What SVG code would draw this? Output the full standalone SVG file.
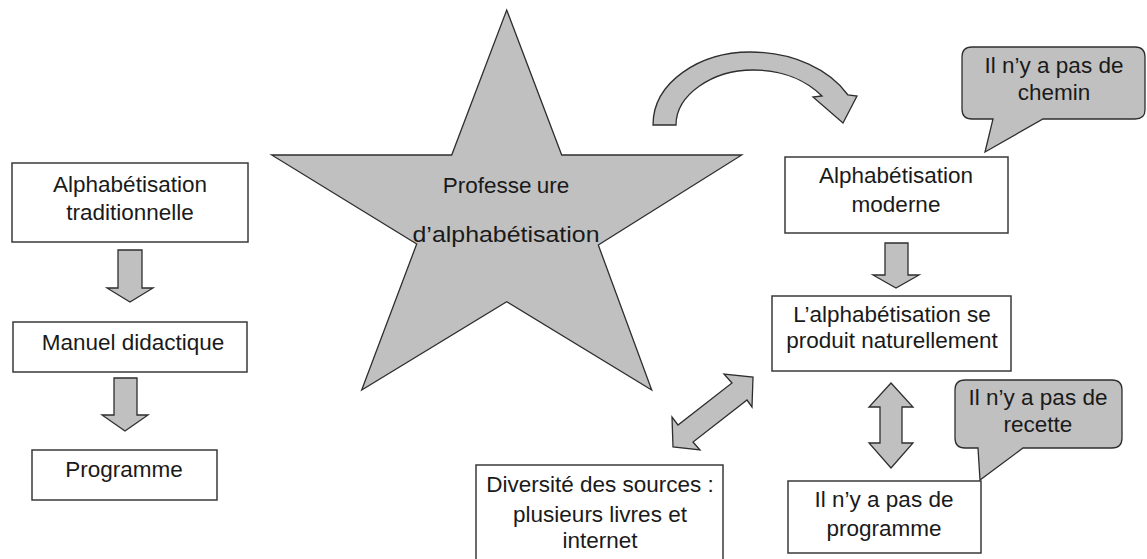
<svg xmlns="http://www.w3.org/2000/svg" width="1147" height="559" viewBox="0 0 1147 559">
<style>
.box{fill:#ffffff;stroke:#3a3a3a;stroke-width:1.5}
.shape{fill:#c0c0c0;stroke:#2e2e2e;stroke-width:1.3;stroke-linejoin:miter}
text{font-family:"Liberation Sans",Arial,sans-serif;font-size:22.5px;fill:#1a1a1a;text-anchor:middle}
</style>
<rect width="1147" height="559" fill="#ffffff"/>
<g id="star">
<polygon class="shape" points="506.7,10 561.7,155 741.7,155 598.3,245 651.7,390 506.7,301.7 361.7,390 416.7,244 271.7,155 451.7,155"/>
<text x="506" y="193" font-size="23">Professe<tspan dx="5">ure</tspan></text>
<text x="506" y="242" font-size="23" textLength="187" lengthAdjust="spacingAndGlyphs">d’alphabétisation</text>
</g>
<g id="n-trad">
<rect class="box" x="12" y="163" width="236" height="79"/>
<text x="130" y="192">Alphabétisation</text>
<text x="130" y="220">traditionnelle</text>
</g>
<g id="n-manuel">
<rect class="box" x="13" y="322" width="234" height="50"/>
<text x="133" y="350">Manuel didactique</text>
</g>
<g id="n-programme">
<rect class="box" x="32" y="450" width="185" height="50"/>
<text x="124" y="477">Programme</text>
</g>
<g id="n-moderne">
<rect class="box" x="785" y="157" width="223" height="76"/>
<text x="896" y="183">Alphabétisation</text>
<text x="896" y="212">moderne</text>
</g>
<g id="n-naturel">
<rect class="box" x="772" y="296" width="239" height="75"/>
<text x="892" y="322">L’alphabétisation se</text>
<text x="892" y="348">produit naturellement</text>
</g>
<g id="n-pasprog">
<rect class="box" x="788" y="481" width="193" height="72"/>
<text x="884" y="507">Il n’y a pas de</text>
<text x="884" y="536">programme</text>
</g>
<g id="n-diversite">
<rect class="box" x="476" y="465" width="247" height="100"/>
<text x="600" y="492">Diversité des sources :</text>
<text x="600" y="522">plusieurs livres et</text>
<text x="600" y="548">internet</text>
</g>
<g id="callout-chemin">
<path class="shape" d="M972,47 H1135 Q1145,47 1145,57 V110 Q1145,119 1135,119 H1043 L985,152 L993,119 H972 Q962,119 962,109 V57 Q962,47 972,47 Z"/>
<text x="1054" y="73">Il n’y a pas de</text>
<text x="1054" y="100">chemin</text>
</g>
<g id="callout-recette">
<path class="shape" d="M965,380 H1112 Q1122,380 1122,390 V438 Q1122,448 1112,448 H1023 L980,480 L978,448 H965 Q955,448 955,438 V390 Q955,380 965,380 Z"/>
<text x="1038" y="405">Il n’y a pas de</text>
<text x="1038" y="432">recette</text>
</g>
<g id="connectors">
<polygon class="shape" points="118,250 142,250 142,288 153,288 130,302 107,288 118,288"/>
<polygon class="shape" points="114,378 137,378 137,415 148,415 125,431 102,415 114,415"/>
<polygon class="shape" points="885,243 908,243 908,275 919,275 896,288 873,275 885,275"/>
<polygon class="shape" points="891,383 913,407 902,407 902,443 913,443 891,468 869,443 880,443 880,407 869,407"/>
<polygon class="shape" points="753,377 752,407 747,400 693,442 700,450 673,447 672,417 678,425 732,383 724,374"/>
<path class="shape" d="M653,125 C653,82 700,52 750,52 C794,52 830,70 848,95 L857,96 L843,123 L813,97 L822,96 C806,80 782,70 753,70 C712,70 676,95 676,125 Z"/>
</g>
</svg>
